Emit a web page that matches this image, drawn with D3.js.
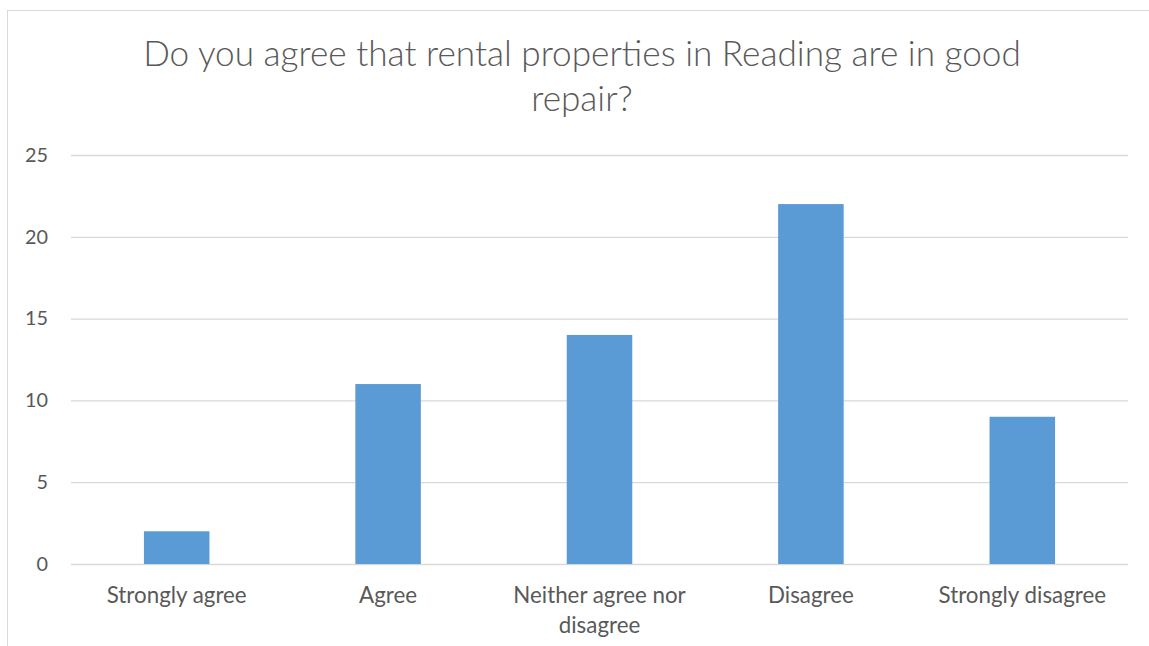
<!DOCTYPE html>
<html><head><meta charset="utf-8">
<script src="https://cdn.jsdelivr.net/npm/d3@7"></script>
<style>body{margin:0;background:#fff;} svg{display:block;}</style>
</head><body>
<svg id="c" width="1149" height="646"></svg>
<script>
const categories = ["Strongly agree","Agree","Neither agree nor disagree","Disagree","Strongly disagree"];
const values = [2, 11, 14, 22, 9];
const yTicks = [0, 5, 10, 15, 20, 25];
const titleLines = ["Do you agree that rental properties in Reading are in good", "repair?"];

const svg = d3.select("#c");
const FONT = "Lato, 'Open Sans', sans-serif";
const textColor = "#595959";

// chart border (cropped at right and bottom)
svg.append("rect").attr("x", 7.5).attr("y", 10.5).attr("width", 1160).attr("height", 660)
  .attr("fill", "none").attr("stroke", "#d9d9d9").attr("stroke-width", 1);

const plot = {left: 71, right: 1128, top: 155, bottom: 564};
const x = d3.scaleBand().domain(categories).range([plot.left, plot.right]).paddingInner(0.69).paddingOuter(0.345);
const y = d3.scaleLinear().domain([0, 25]).range([plot.bottom, plot.top]);

// measure helper to fit label size to reference widths
function fitSize(text, targetW, weight) {
  const t = svg.append("text").style("font-family", FONT).style("font-size", "20px")
    .style("font-weight", weight || 400).text(text);
  const w = t.node().getComputedTextLength();
  t.remove();
  return 20 * targetW / w;
}
const labelSize = fitSize("Strongly agree", 140);
const tickSize = fitSize("25", 23);

// gridlines
const yAxis = d3.axisLeft(y).tickValues(yTicks).tickSize(-(plot.right - plot.left)).tickPadding(23);
const gy = svg.append("g").attr("transform", `translate(${plot.left},0)`).call(yAxis);
gy.select(".domain").remove();
gy.selectAll(".tick line").attr("stroke", "#d9d9d9").attr("stroke-width", 1.3);
gy.selectAll(".tick text").attr("fill", textColor).style("font-family", FONT).style("font-size", tickSize + "px");

// bars
svg.append("g").selectAll("rect").data(values).join("rect")
  .attr("x", (d, i) => x(categories[i]))
  .attr("width", x.bandwidth())
  .attr("y", d => y(d))
  .attr("height", d => y(0) - y(d))
  .attr("fill", "#5b9bd5");

// x axis labels (wrap)
const gx = svg.append("g");
categories.forEach(c => {
  const cx = x(c) + x.bandwidth() / 2;
  const t = gx.append("text").attr("x", cx).attr("y", 603).attr("text-anchor", "middle")
    .attr("fill", textColor).style("font-family", FONT).style("font-size", labelSize + "px");
  const words = c.split(" ");
  let lines = [c];
  if (c.length > 20) {
    lines = [words.slice(0, 3).join(" "), words.slice(3).join(" ")];
  }
  lines.forEach((l, i) => t.append("tspan").attr("x", cx).attr("dy", i === 0 ? 0 : 30).text(l));
});

// title
const tt = svg.append("text").attr("text-anchor", "middle").attr("fill", textColor)
  .style("font-family", FONT).style("font-weight", 300).style("font-size", "31px");
titleLines.forEach((l, i) => tt.append("tspan").attr("x", 582).attr("y", 66 + i * 45).text(l));
const w = tt.select("tspan").node().getComputedTextLength();
tt.style("font-size", (31 * 878 / w).toFixed(2) + "px");
</script>
</body></html>
